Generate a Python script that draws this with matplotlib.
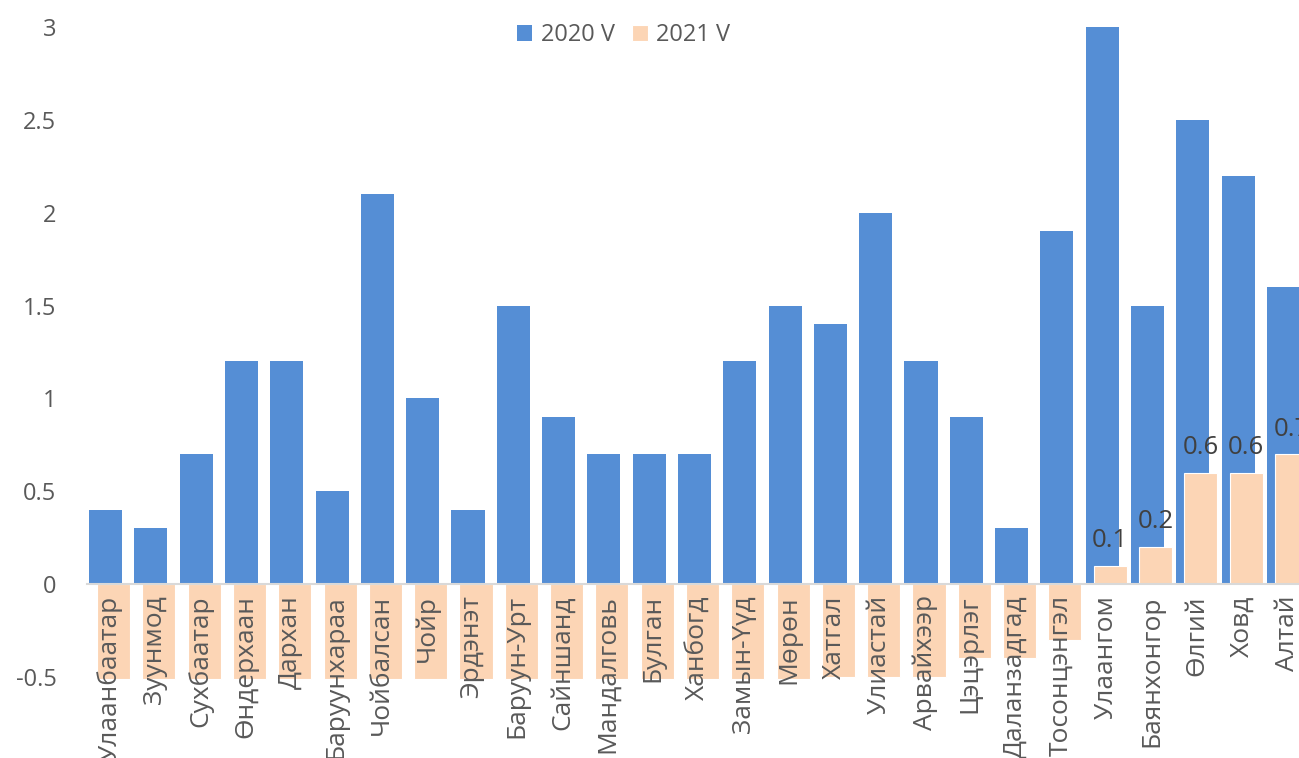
import matplotlib
matplotlib.use('Agg')
import matplotlib.pyplot as plt
import numpy as np

plt.rcParams['font.family'] = ['Open Sans', 'DejaVu Sans']
plt.rcParams['axes.unicode_minus'] = False

# 城市与数值
cities = ['Улаанбаатар', 'Зуунмод', 'Сухбаатар', 'Өндерхаан', 'Дархан', 'Баруунхараа',
          'Чойбалсан', 'Чойр', 'Эрдэнэт', 'Баруун-Урт', 'Сайншанд', 'Мандалговь',
          'Булган', 'Ханбогд', 'Замын-Үүд', 'Мөрөн', 'Хатгал', 'Улиастай', 'Арвайхээр',
          'Цэцэрлэг', 'Даланзадгад', 'Тосонцэнгэл', 'Улаангом', 'Баянхонгор', 'Өлгий',
          'Ховд', 'Алтай']
v2020 = [0.4, 0.3, 0.7, 1.2, 1.2, 0.5, 2.1, 1.0, 0.4, 1.5, 0.9, 0.7, 0.7, 0.7,
         1.2, 1.5, 1.4, 2.0, 1.2, 0.9, 0.3, 1.9, 3.0, 1.5, 2.5, 2.2, 1.6]
v2021 = [-0.51, -0.51, -0.51, -0.51, -0.51, -0.51, -0.51, -0.51, -0.51, -0.51, -0.51,
         -0.51, -0.51, -0.51, -0.51, -0.51, -0.5, -0.5, -0.5, -0.4, -0.4, -0.3,
         0.1, 0.2, 0.6, 0.6, 0.7]
series_names = ['2020 V', '2021 V']
yticks = [-0.5, 0, 0.5, 1, 1.5, 2, 2.5, 3]
ytick_labels = ['-0.5', '0', '0.5', '1', '1.5', '2', '2.5', '3']

blue = '#558ED5'
peach = '#FCD5B5'
grey = '#595959'

fig = plt.figure(figsize=(12.99, 7.58), dpi=100)
ax = fig.add_axes([87 / 1299, 81 / 758, 1223 / 1299, 650 / 758])

# 先把x轴移到0处（会重置刻度）
for s in ['top', 'right', 'left']:
    ax.spines[s].set_visible(False)
ax.spines['bottom'].set_position(('data', 0))
ax.spines['bottom'].set_color('#D9D9D9')
ax.spines['bottom'].set_linewidth(1.5)
ax.spines['bottom'].set_zorder(3)

x = np.arange(len(cities))
w = 0.73
off = 0.088
ax.bar(x - off, v2020, w, color=blue, label=series_names[0], zorder=1)
ax.bar(x + off, v2021, w, color=peach, edgecolor='white', linewidth=0.8,
       label=series_names[1], zorder=1.5, clip_on=False)

# 只标注正值
for xi, v in zip(x, v2021):
    if v > 0:
        ax.annotate(f'{v:g}', (xi + off, v), xytext=(0, 9), textcoords='offset points',
                    ha='center', va='bottom', fontsize=18.5, color='#404040',
                    annotation_clip=False)

ax.set_xlim(-0.5, len(cities) - 0.5)
ax.set_ylim(-0.5, 3)
ax.set_yticks(yticks)
ax.set_yticklabels(ytick_labels)
ax.set_xticks(x)
ax.set_xticklabels(cities)

ax.tick_params(axis='y', length=0, pad=22, labelsize=17, labelcolor=grey)
ax.tick_params(axis='x', length=0, pad=8, labelsize=19, labelcolor=grey,
               labelrotation=90)

leg = fig.legend(loc='center', bbox_to_anchor=(623.5 / 1299, 1 - 35 / 758), ncol=2,
                 frameon=False, fontsize=17, handlelength=0.65, handleheight=0.65,
                 handletextpad=0.35, columnspacing=0.75)
for t in leg.get_texts():
    t.set_color(grey)

fig.savefig('out.png', dpi=100)
